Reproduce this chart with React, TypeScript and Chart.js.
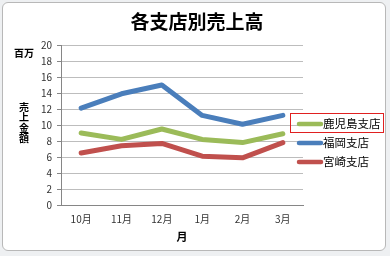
import React, { useEffect, useRef } from "react";
import { Chart, registerables } from "chart.js";

Chart.register(...registerables);

const categories = ["10月", "11月", "12月", "1月", "2月", "3月"];
const seriesNames = ["鹿児島支店", "福岡支店", "宮崎支店"];
const kagoshima = [9.0, 8.2, 9.5, 8.2, 7.8, 8.9];
const fukuoka = [12.1, 13.9, 15.0, 11.2, 10.1, 11.2];
const miyazaki = [6.5, 7.4, 7.7, 6.1, 5.9, 7.8];
const seriesColors = ["#9BBB59", "#4A7EBB", "#C0504D"];
const titleText = "各支店別売上高";
const unitText = "百万";
const yTitleChars = ["売", "上", "金", "額"];
const xTitleText = "月";

const FONT = "'Noto Sans CJK JP', 'Noto Sans', sans-serif";

const overlay = {
  id: "overlay",
  afterDraw(chart: any) {
    const ctx = chart.ctx;
    const area = chart.chartArea;
    ctx.save();
    // title
    ctx.fillStyle = "#000";
    ctx.textAlign = "center";
    ctx.textBaseline = "middle";
    ctx.font = `bold 19px ${FONT}`;
    ctx.fillText(titleText, 194, 19);
    // unit
    ctx.font = `bold 10px ${FONT}`;
    ctx.fillText(unitText, 21, 50);
    // vertical y title
    yTitleChars.forEach((c, i) => ctx.fillText(c, 21, 104 + i * 10.5));
    // x title
    ctx.font = `bold 11px ${FONT}`;
    ctx.fillText(xTitleText, (area.left + area.right) / 2, 234);
    // legend
    ctx.textAlign = "left";
    ctx.font = `11.5px ${FONT}`;
    const ys = [121, 140, 159];
    seriesNames.forEach((name, i) => {
      ctx.strokeStyle = seriesColors[i];
      ctx.lineWidth = 4.5;
      ctx.lineCap = "round";
      ctx.beginPath();
      ctx.moveTo(296, ys[i]);
      ctx.lineTo(318, ys[i]);
      ctx.stroke();
      ctx.fillStyle = "#000";
      ctx.fillText(name, 320, ys[i]);
    });
    // selection box
    ctx.strokeStyle = "#E02020";
    ctx.lineWidth = 1;
    ctx.strokeRect(287.5, 110.5, 93, 19);
    ctx.restore();
  },
};

export default function App() {
  const ref = useRef<HTMLCanvasElement>(null);
  useEffect(() => {
    document.body.style.margin = "0";
    const chart = new Chart(ref.current!, {
      type: "line",
      data: {
        labels: categories,
        datasets: [kagoshima, fukuoka, miyazaki].map((d, i) => ({
          label: seriesNames[i],
          data: d,
          borderColor: seriesColors[i],
          backgroundColor: seriesColors[i],
          borderWidth: 5,
          pointRadius: 0,
          tension: 0,
          borderCapStyle: "round" as const,
          borderJoinStyle: "round" as const,
        })),
      },
      options: {
        animation: false,
        responsive: false,
        layout: { padding: { left: 18, right: 82, top: 42, bottom: 5 } },
        plugins: { legend: { display: false }, title: { display: false }, tooltip: { enabled: false } },
        scales: {
          x: {
            offset: true,
            grid: { display: false, drawTicks: false },
            border: { display: true, color: "#868686" },
            ticks: { padding: 8, color: "#333", font: { family: FONT, size: 10 } },
            afterFit: (s: any) => { s.height = 40; },
          },
          y: {
            min: 0,
            max: 20,
            ticks: { stepSize: 2, padding: 5, color: "#333", font: { family: FONT, size: 10 } },
            grid: { color: "#BDBDBD", tickLength: 4, tickColor: "#868686" },
            border: { display: true, color: "#868686" },
            afterFit: (s: any) => { s.width = 40; },
          },
        },
      },
      plugins: [overlay],
    });
    return () => chart.destroy();
  }, []);
  return (
    <div style={{ position: "fixed", left: 0, top: 0, width: 390, height: 256, background: "#EEF0F2" }}>
      <div style={{ position: "absolute", left: 2, top: 2, width: 382, height: 247, background: "#fff", border: "1px solid #B8B8B8", borderRadius: 6, overflow: "hidden" }}>
        <canvas ref={ref} width={382} height={247} style={{ display: "block" }} />
      </div>
    </div>
  );
}
